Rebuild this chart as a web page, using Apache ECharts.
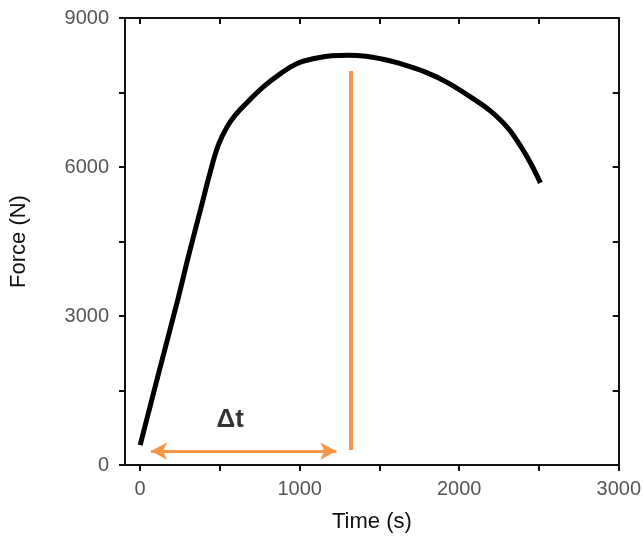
<!DOCTYPE html>
<html>
<head>
<meta charset="utf-8">
<script src="https://cdn.jsdelivr.net/npm/echarts@6/dist/echarts.min.js"></script>
<style>
  html, body { margin: 0; padding: 0; background: #fff; }
  #root { width: 644px; height: 540px; }
</style>
</head>
<body>
<div id="root"></div>
<script>
// force curve
const timeS = [0, 120, 236, 304, 379, 441, 491, 547, 600, 671, 770, 880, 981, 1100, 1200, 1300, 1416, 1520, 1621, 1789, 1932, 2099, 2199, 2304, 2385, 2447, 2509]
const forceN = [400, 1900, 3330, 4220, 5150, 5920, 6450, 6820, 7060, 7300, 7610, 7880, 8080, 8190, 8240, 8250, 8230, 8170, 8090, 7910, 7690, 7350, 7120, 6790, 6420, 6080, 5680]

// annotations
const vLineX = [1323, 1323]
const vLineY = [300, 7932]
const arrowX = [68, 1230]
const arrowY = [280, 280]
const deltaPos = [565, 906]

const xTicks = [0, 500, 1000, 1500, 2000, 2500, 3000]
const xLabels = [0, 1000, 2000, 3000]
const yTicks = [0, 1500, 3000, 4500, 6000, 7500, 9000]
const yLabels = [0, 3000, 6000, 9000]

const font = 'Liberation Sans, Arial, sans-serif'
const orange = '#F79646'
const axisLine = { show: true, onZero: false, lineStyle: { color: '#111', width: 2 } }
const plain = v => String(v)

const chart = echarts.init(document.getElementById('root'))

const option = {
    animation: false,
    textStyle: { fontFamily: font },
    grid: { left: 124, right: 21, top: 18, bottom: 75 },
    xAxis: [{
        type: 'value', position: 'bottom', min: -95, max: 3000,
        axisLine: axisLine,
        axisTick: { show: true, inside: false, length: 6, customValues: xTicks, lineStyle: { color: '#111', width: 2 } },
        axisLabel: { customValues: xLabels, formatter: plain, color: '#555', fontSize: 20, margin: 14, fontFamily: font },
        splitLine: { show: false },
        name: 'Time (s)', nameLocation: 'middle', nameGap: 46,
        nameTextStyle: { fontSize: 22, color: '#111', fontFamily: font }
    }, {
        type: 'value', position: 'top', min: -95, max: 3000,
        axisLine: axisLine,
        axisTick: { show: true, inside: true, length: 6, customValues: xTicks, lineStyle: { color: '#111', width: 2 } },
        axisLabel: { show: false },
        splitLine: { show: false }
    }],
    yAxis: [{
        type: 'value', position: 'left', min: 0, max: 9000,
        axisLine: axisLine,
        axisTick: { show: true, inside: false, length: 6, customValues: yTicks, lineStyle: { color: '#111', width: 2 } },
        axisLabel: { customValues: yLabels, formatter: plain, color: '#555', fontSize: 20, margin: 16, fontFamily: font },
        splitLine: { show: false },
        name: 'Force (N)', nameLocation: 'middle', nameGap: 95,
        nameTextStyle: { fontSize: 22, color: '#111', fontFamily: font }
    }, {
        type: 'value', position: 'right', min: 0, max: 9000,
        axisLine: axisLine,
        axisTick: { show: true, inside: true, length: 6, customValues: yTicks, lineStyle: { color: '#111', width: 2 } },
        axisLabel: { show: false },
        splitLine: { show: false }
    }],
    series: [{
        type: 'line',
        data: timeS.map((t, i) => [t, forceN[i]]),
        smooth: 0.4,
        showSymbol: false,
        symbol: 'none',
        lineStyle: { color: '#000', width: 5 },
        silent: true,
        markLine: {
            silent: true,
            label: { show: false },
            data: [
                [{ coord: [vLineX[0], vLineY[0]], symbol: 'none' },
                 { coord: [vLineX[1], vLineY[1]], symbol: 'none', lineStyle: { color: orange, width: 4, type: 'solid' } }],
                [{ coord: [arrowX[0], arrowY[0]], symbol: 'arrow', symbolSize: [13, 16] },
                 { coord: [arrowX[1], arrowY[1]], symbol: 'arrow', symbolSize: [13, 16], lineStyle: { color: orange, width: 3, type: 'solid' } }]
            ],
            lineStyle: { color: orange, type: 'solid' },
            emphasis: { disabled: true }
        }
    }, {
        type: 'scatter',
        data: [deltaPos],
        symbolSize: 1,
        silent: true,
        itemStyle: { color: 'rgba(0,0,0,0)' },
        label: {
            show: true, position: 'inside', formatter: 'Δt',
            fontSize: 26, fontWeight: 'bold', color: '#000', fontFamily: font
        }
    }]
}
chart.setOption(option)
</script>
</body>
</html>
